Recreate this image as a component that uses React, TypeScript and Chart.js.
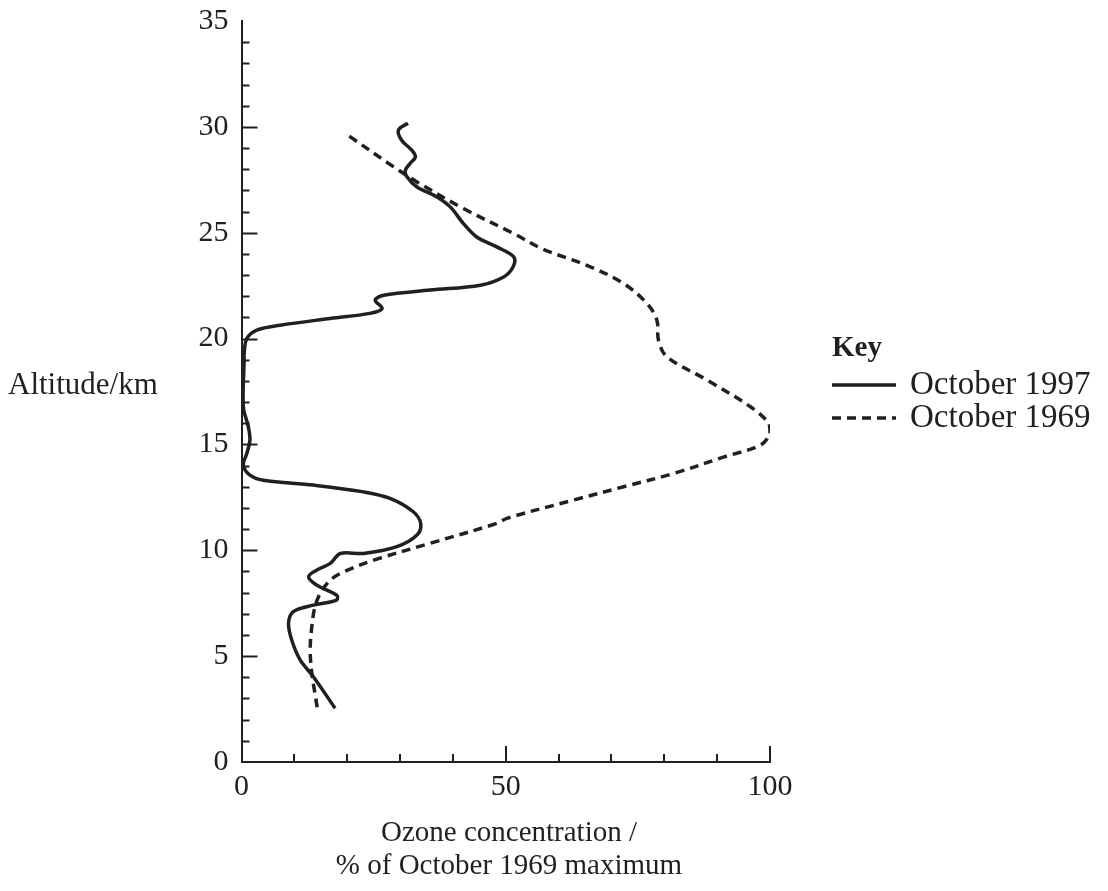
import React, { useEffect, useRef } from "react";
import { Chart, registerables } from "chart.js";

Chart.register(...registerables);

// October 1997 profile: ozone concentration (% of Oct 1969 max) vs altitude (km)
const CONC_1997 = [
  31.5, 29.7, 30.3, 32.2, 32.9, 31.9, 31.0, 31.3, 33.2, 37.0, 39.5, 42.0, 44.5, 48.3, 51.5, 51.4,
  49.6, 45.2, 35.7, 26.9, 25.3, 26.6, 24.3, 16.8, 7.3, 2.9, 1.0, 0.5, 0.5, 0.35, 1.3, 1.6, 1.0,
  0.35, 1.6, 4.1, 13.6, 23.1, 28.1, 32.5, 33.9, 33.2, 29.4, 23.1, 18.7, 16.8, 14.2, 12.7, 14.2,
  18.0, 18.0, 13.6, 9.8, 8.9, 9.5, 11.1, 13.6, 17.7,
];
const ALT_1997 = [
  30.17, 29.85, 29.37, 28.9, 28.58, 28.27, 27.95, 27.64, 27.16, 26.69, 26.22, 25.43, 24.8, 24.33,
  23.86, 23.39, 22.91, 22.52, 22.29, 22.05, 21.81, 21.42, 21.19, 20.95, 20.63, 20.4, 20.0, 19.3,
  18.98, 16.78, 15.83, 15.2, 14.57, 14.02, 13.55, 13.31, 13.08, 12.76, 12.45, 11.82, 11.27, 10.72,
  10.17, 9.85, 9.85, 9.38, 9.06, 8.75, 8.36, 7.88, 7.65, 7.41, 7.1, 6.55, 5.76, 4.82, 4.03, 2.54,
];

// October 1969 profile
const CONC_1969 = [
  20.4, 28.8, 33.2, 42.0, 51.5, 57.0, 66.0, 72.3, 76.7, 78.6, 78.9, 80.5, 88.1, 96.3, 99.8, 100.0,
  98.2, 91.3, 81.8, 72.3, 62.8, 50.2, 48.3, 35.7, 25.6, 19.3, 16.8, 14.9, 13.9, 13.3, 13.0, 13.3,
  13.9, 14.5,
];
const ALT_1969 = [
  29.56, 28.11, 27.4, 26.14, 24.96, 24.23, 23.39, 22.6, 21.66, 20.87, 19.92, 19.14, 18.04, 16.78,
  15.99, 15.52, 14.97, 14.41, 13.63, 13.0, 12.37, 11.51, 11.27, 10.33, 9.58, 8.98, 8.59, 7.96,
  7.33, 6.39, 5.29, 4.19, 3.24, 2.3,
];

const SERIES_LABELS = ["October 1997", "October 1969"];
const X_LABELED_TICKS = [0, 50, 100];
const Y_LABELED_TICKS = [0, 5, 10, 15, 20, 25, 30, 35];
const Y_TITLE = "Altitude/km";
const X_TITLE = ["Ozone concentration /", "% of October 1969 maximum"];
const KEY_TITLE = "Key";

const INK = "#231f20";
const FONT = "'Liberation Serif', 'Times New Roman', serif";

const toPoints = (xs: number[], ys: number[]) => xs.map((x, i) => ({ x, y: ys[i] }));

const decorPlugin = {
  id: "decor",
  afterDraw(chart: any) {
    const ctx = chart.ctx as CanvasRenderingContext2D;
    const xs = chart.scales.x;
    const ys = chart.scales.y;
    const area = chart.chartArea;
    ctx.save();
    ctx.strokeStyle = INK;
    ctx.lineWidth = 2;
    // y ticks (inward)
    for (let v = 1; v < 35; v++) {
      const py = Math.round(ys.getPixelForValue(v)) + 0.5;
      const len = v % 5 === 0 ? 16 : 8;
      ctx.beginPath();
      ctx.moveTo(area.left, py);
      ctx.lineTo(area.left + len, py);
      ctx.stroke();
    }
    // x ticks (upward)
    for (let v = 10; v <= 100; v += 10) {
      const px = Math.round(xs.getPixelForValue(v));
      const len = v % 50 === 0 ? 16 : 8;
      ctx.beginPath();
      ctx.moveTo(px, area.bottom);
      ctx.lineTo(px, area.bottom - len);
      ctx.stroke();
    }
    ctx.fillStyle = INK;
    ctx.textBaseline = "middle";
    // y title
    ctx.font = `31px ${FONT}`;
    ctx.textAlign = "left";
    ctx.fillText(Y_TITLE, 8, 386);
    // x title
    ctx.font = `29px ${FONT}`;
    ctx.textAlign = "center";
    const cx = 509;
    ctx.fillText(X_TITLE[0], cx, 833);
    ctx.fillText(X_TITLE[1], cx, 866);
    // legend
    ctx.textAlign = "left";
    ctx.font = `bold 29px ${FONT}`;
    ctx.fillText(KEY_TITLE, 832, 349);
    ctx.font = `33px ${FONT}`;
    const rows = [385, 418];
    chart.data.datasets.forEach((ds: any, i: number) => {
      const y = rows[i];
      ctx.beginPath();
      ctx.lineWidth = 3.5;
      ctx.setLineDash(ds.borderDash || []);
      ctx.moveTo(832, y);
      ctx.lineTo(896, y);
      ctx.stroke();
      ctx.setLineDash([]);
      ctx.fillText(ds.label, 910, y);
    });
    ctx.restore();
  },
};

export default function App() {
  const ref = useRef<HTMLCanvasElement | null>(null);
  useEffect(() => {
    if (!ref.current) return;
    const chart = new Chart(ref.current, {
      type: "scatter",
      data: {
        datasets: [
          {
            label: SERIES_LABELS[0],
            data: toPoints(CONC_1997, ALT_1997),
            showLine: true,
            borderColor: INK,
            borderWidth: 3.5,
            pointRadius: 0,
            tension: 0.35,
            fill: false,
          },
          {
            label: SERIES_LABELS[1],
            data: toPoints(CONC_1969, ALT_1969),
            showLine: true,
            borderColor: INK,
            borderWidth: 3.5,
            borderDash: [9, 6],
            pointRadius: 0,
            tension: 0.35,
            fill: false,
          },
        ],
      },
      options: {
        responsive: false,
        animation: false,
        devicePixelRatio: 1,
        layout: { padding: { top: 21, right: 338, bottom: 0, left: 0 } },
        plugins: { legend: { display: false }, tooltip: { enabled: false } },
        scales: {
          x: {
            type: "linear",
            min: 0,
            max: 100,
            grid: { display: false, drawTicks: false },
            border: { display: true, color: INK, width: 2 },
            ticks: {
              stepSize: 10,
              padding: 7,
              color: INK,
              font: { family: FONT, size: 30 },
              maxRotation: 0,
              autoSkip: false,
              callback: (v: any) => (X_LABELED_TICKS.includes(Number(v)) ? String(v) : ""),
            },
            afterFit: (s: any) => {
              s.height = 129;
              s.paddingLeft = 0;
              s.paddingRight = 0;
            },
          },
          y: {
            type: "linear",
            min: 0,
            max: 35,
            grid: { display: false, drawTicks: false },
            border: { display: true, color: INK, width: 2 },
            ticks: {
              stepSize: 1,
              padding: 13,
              color: INK,
              font: { family: FONT, size: 30 },
              autoSkip: false,
              callback: (v: any) => (Y_LABELED_TICKS.includes(Number(v)) ? String(v) : ""),
            },
            afterFit: (s: any) => {
              s.width = 241.5;
              s.paddingTop = 0;
              s.paddingBottom = 0;
            },
          },
        },
      },
      plugins: [decorPlugin],
    });
    return () => chart.destroy();
  }, []);
  return (
    <canvas
      ref={ref}
      width={1108}
      height={891}
      style={{ position: "fixed", left: 0, top: 0, width: 1108, height: 891, background: "#fff" }}
    />
  );
}
